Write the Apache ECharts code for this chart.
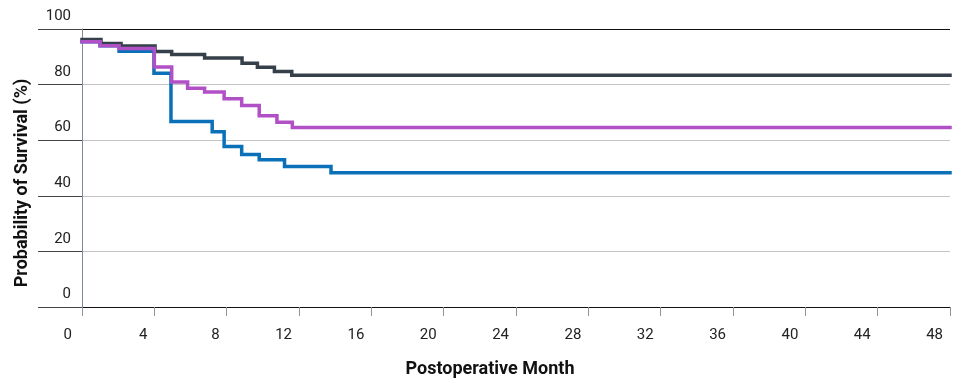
<!DOCTYPE html>
<html>
<head>
<meta charset="utf-8">
<script src="https://cdn.jsdelivr.net/npm/echarts@6/dist/echarts.min.js"></script>
<style>
html,body{margin:0;padding:0;background:#fff;}
#chart{width:957px;height:383px;}
</style>
</head>
<body>
<div id="chart"></div>
<script>
// X axis ticks (months) and Y axis ticks (%)
const xTicks = [0, 4, 8, 12, 16, 20, 24, 28, 32, 36, 40, 44, 48];
const yTicks = [0, 20, 40, 60, 80, 100];

// Kaplan-Meier curves: value holds from the given month onward
const darkMonths = [0, 1.05, 2.16, 4.04, 4.96, 6.78, 8.85, 9.7, 10.64, 11.6, 48];
const darkValues = [96.2, 94.8, 93.9, 91.9, 90.8, 89.6, 87.7, 86.2, 84.7, 83.4, 83.4];

const blueMonths = [0, 1.0, 2.05, 3.98, 4.92, 7.2, 7.86, 8.83, 9.8, 11.2, 13.77, 48];
const blueValues = [95.4, 94.0, 92.0, 84.1, 66.7, 63.0, 57.7, 54.9, 53.0, 50.5, 48.3, 48.3];

const purpleMonths = [0, 1.0, 2.05, 4.0, 4.96, 5.84, 6.78, 7.86, 8.83, 9.8, 10.78, 11.63, 48];
const purpleValues = [95.4, 94.0, 93.0, 86.3, 80.9, 78.7, 77.3, 74.9, 72.5, 68.8, 66.5, 64.6, 64.6];

const xTitle = 'Postoperative Month';
const yTitle = 'Probability of Survival (%)';

function pairs(xs, ys) { return xs.map((x, i) => [x, ys[i]]); }

const chart = echarts.init(document.getElementById('chart'), null, {renderer: 'canvas'});
const font = 'Roboto, "Noto Sans", sans-serif';

function mkSeries(name, xs, ys, color) {
  return {
    name: name, type: 'line', step: 'end', data: pairs(xs, ys),
    showSymbol: false, symbol: 'none', animation: false,
    lineStyle: {color: color, width: 3.5, cap: 'square', join: 'miter'},
    itemStyle: {color: color}
  };
}

chart.setOption({
  animation: false,
  grid: {left: 82, right: 7, top: 29, bottom: 73, containLabel: false},
  xAxis: {
    type: 'value', min: xTicks[0], max: xTicks[xTicks.length - 1], interval: 4,
    name: xTitle, nameLocation: 'middle', nameGap: 53,
    nameTextStyle: {fontFamily: font, fontWeight: 'bold', fontSize: 18, color: '#111', padding: [0, 52, 0, 0]},
    axisLine: {show: true, lineStyle: {color: '#111', width: 1}},
    axisTick: {show: true, length: 9, lineStyle: {color: '#8b96a0', width: 1}},
    splitLine: {show: false},
    axisLabel: {
      fontFamily: font, fontSize: 15, color: '#222', margin: 21,
      align: 'right', padding: [0, 7, 0, 0],
      formatter: v => v === 0 ? '{z|0}' : String(v),
      rich: {z: {fontFamily: font, fontSize: 15, color: '#222', padding: [0, 3, 0, 0]}}
    }
  },
  yAxis: {
    type: 'value', min: yTicks[0], max: yTicks[yTicks.length - 1], interval: 20,
    name: yTitle, nameLocation: 'middle', nameGap: 51, nameRotate: 90,
    nameTextStyle: {fontFamily: font, fontWeight: 'bold', fontSize: 18, color: '#111', padding: [0, 30, 0, 0]},
    axisLine: {show: true, lineStyle: {color: '#7f8a94', width: 1}},
    axisTick: {show: true, length: 44, lineStyle: {color: '#444', width: 1}},
    splitLine: {show: true, lineStyle: {color: ['#111', '#c4c4c4', '#c4c4c4', '#c4c4c4', '#c4c4c4', '#111'], width: 1}},
    axisLabel: {
      fontFamily: font, fontSize: 15, color: '#222', margin: 11,
      verticalAlign: 'bottom', padding: [0, 0, 5, 0]
    }
  },
  series: [
    mkSeries('Group A', darkMonths, darkValues, '#36404a'),
    mkSeries('Group C', blueMonths, blueValues, '#0a70b8'),
    mkSeries('Group B', purpleMonths, purpleValues, '#b150c6')
  ]
});
</script>
</body>
</html>
